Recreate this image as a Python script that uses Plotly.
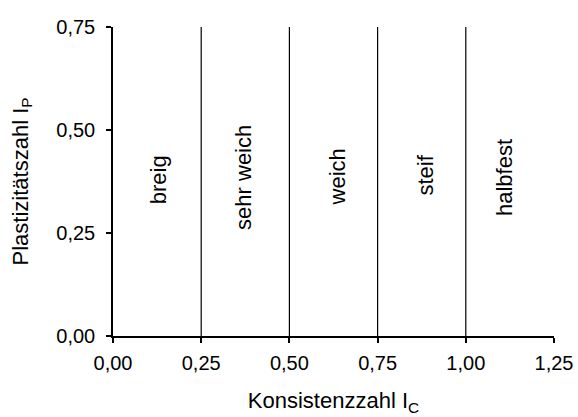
import plotly.graph_objects as go

boundaries = [0.25, 0.50, 0.75, 1.00]
line_ymin = 0.0
line_ymax = 0.75
zone_labels = ["breig", "sehr weich", "weich", "steif", "halbfest"]
label_x = [0.13, 0.37, 0.635, 0.885, 1.11]
label_y = [0.38, 0.385, 0.385, 0.39, 0.385]
x_ticks = [0.0, 0.25, 0.50, 0.75, 1.00, 1.25]
x_ticklabels = ["0,00", "0,25", "0,50", "0,75", "1,00", "1,25"]
y_ticks = [0.0, 0.25, 0.50, 0.75]
y_ticklabels = ["0,00", "0,25", "0,50", "0,75"]

FONT = "Liberation Sans, Arial, sans-serif"

xs, ys = [], []
for b in boundaries:
    xs += [b, b, None]
    ys += [line_ymin, line_ymax, None]

fig = go.Figure()
fig.add_trace(go.Scatter(x=xs, y=ys, mode="lines",
                         line=dict(color="black", width=1.2),
                         hoverinfo="skip", showlegend=False))

for t, x, y in zip(zone_labels, label_x, label_y):
    fig.add_annotation(x=x, y=y, text=t, showarrow=False, textangle=-90,
                       font=dict(family=FONT, size=22, color="black"),
                       xanchor="center", yanchor="middle")

fig.update_layout(
    width=578, height=417,
    margin=dict(l=113, r=24, t=27, b=81),
    paper_bgcolor="white", plot_bgcolor="white",
    font=dict(family=FONT, size=20, color="black"),
    showlegend=False,
)
fig.update_xaxes(range=[0, 1.25], tickvals=x_ticks, ticktext=x_ticklabels,
                 showline=True, linecolor="black", linewidth=1.5,
                 ticks="outside", ticklen=5, tickwidth=1.5, tickcolor="black",
                 showgrid=False, zeroline=False, ticklabelstandoff=3,
                 ticklabeloverflow="allow", automargin=False,
                 tickfont=dict(family=FONT, size=20),
                 title=dict(text="Konsistenzzahl I<sub>C</sub>",
                            font=dict(family=FONT, size=22), standoff=20))
fig.update_yaxes(range=[0, 0.75], tickvals=y_ticks, ticktext=y_ticklabels,
                 showline=True, linecolor="black", linewidth=1.5,
                 ticks="outside", ticklen=5, tickwidth=1.5, tickcolor="black",
                 showgrid=False, zeroline=False, ticklabelstandoff=7,
                 ticklabeloverflow="allow", automargin=False,
                 tickfont=dict(family=FONT, size=20),
                 title=dict(text="Plastizitätszahl I<sub>P</sub>",
                            font=dict(family=FONT, size=22), standoff=22))

fig.write_html("out.html")
